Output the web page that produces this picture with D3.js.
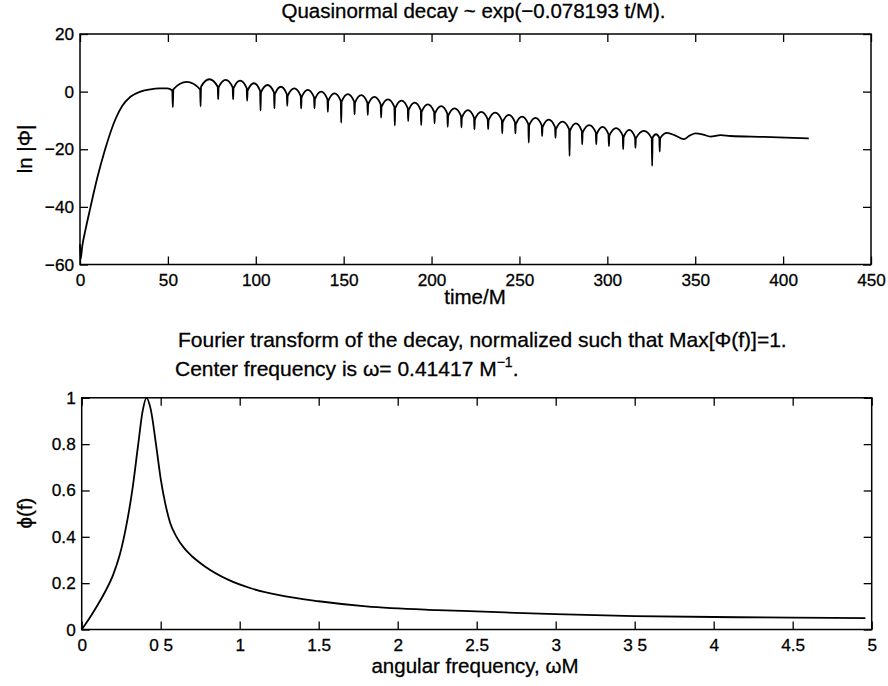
<!DOCTYPE html>
<html>
<head>
<meta charset="utf-8">
<title>Quasinormal decay</title>
<script src="https://cdn.jsdelivr.net/npm/d3@7"></script>
<style>
  body { margin: 0; background: #fff; }
  text { font-family: "Liberation Sans", Arial, Helvetica, sans-serif; fill: #000; stroke: #000; stroke-width: 0.3px; }
</style>
</head>
<body>
<svg id="chart" width="888" height="686"></svg>
<script>
// ---- data ----
// top panel: ln|Phi| against time/M  [t, ln|Phi|]
const decaySamples = [
  [0,-53],[0.4,-58],[1.25,-53.8],[3.1,-48],[6,-40],[9.8,-30],[14.3,-20],[20.2,-9.5],
  [24,-5],[28.7,-1.8],[34.4,0],[40.1,0.8],[45,1.1],[49.6,1.1],
  [52.5,0.4],[52.8,-5.4],[53.1,0.8],[60.7,3.4],
  [68.35,0.8],[68.6,-5.1],[68.85,1.7],[73.6,4.3],
  [78.35,1.7],[78.6,-2.7],[78.85,1.5],[82.9,4.1],
  [86.85,1.5],[87.1,-2.7],[87.35,1.2],[91.1,3.8],
  [94.85,1.2],[95.1,-3.1],[95.35,0.3],[98.9,2.9],
  [102.45,0.3],[102.7,-6.6],[102.95,-0.3],[106.7,2.3],
  [110.35,-0.3],[110.6,-5.8],[110.85,-0.9],[114.3,1.7],
  [117.65,-0.9],[117.9,-4.9],[118.15,-1.5],[121.9,1.1],
  [125.55,-1.5],[125.8,-5.8],[126.05,-2.0],[129.6,0.6],
  [133.15,-2.0],[133.4,-5.8],[133.65,-2.6],[137.2,0.0],
  [140.75,-2.6],[141.0,-7.0],[141.25,-3.2],[144.8,-0.6],
  [148.35,-3.2],[148.6,-10.8],[148.85,-3.5],[152.4,-0.9],
  [155.95,-3.5],[156.2,-7.9],[156.45,-3.8],[160.0,-1.2],
  [163.45,-3.8],[163.7,-8.1],[163.95,-4.4],[167.5,-1.8],
  [171.05,-4.4],[171.3,-9.0],[171.55,-5.3],[175.2,-2.7],
  [178.85,-5.3],[179.1,-11.8],[179.35,-5.7],[182.9,-3.1],
  [186.45,-5.7],[186.7,-10.2],[186.95,-6.4],[190.4,-3.8],
  [193.85,-6.4],[194.1,-11.6],[194.35,-7.0],[197.9,-4.4],
  [201.45,-7.0],[201.7,-11.0],[201.95,-7.6],[205.5,-5.0],
  [208.95,-7.6],[209.2,-12.2],[209.45,-8.4],[213.1,-5.8],
  [216.75,-8.4],[217.0,-12.4],[217.25,-9.0],[220.7,-6.4],
  [224.15,-9.0],[224.4,-13.1],[224.65,-9.6],[228.3,-7.0],
  [231.95,-9.6],[232.2,-13.0],[232.45,-9.9],[236.2,-7.3],
  [239.95,-9.9],[240.2,-14.5],[240.45,-10.7],[244.0,-8.1],
  [247.45,-10.7],[247.7,-14.5],[247.95,-11.3],[251.5,-8.7],
  [255.05,-11.3],[255.3,-17.7],[255.55,-11.7],[259.1,-9.1],
  [262.65,-11.7],[262.9,-15.4],[263.15,-12.3],[266.7,-9.7],
  [270.25,-12.3],[270.5,-16.0],[270.75,-13.0],[274.5,-10.4],
  [278.25,-13.0],[278.5,-22.3],[278.75,-13.6],[282.1,-11.0],
  [285.45,-13.6],[285.7,-18.3],[285.95,-14.2],[289.7,-11.6],
  [293.45,-14.2],[293.7,-18.3],[293.95,-14.8],[297.3,-12.2],
  [300.65,-14.8],[300.9,-18.9],[301.15,-15.3],[305.0,-12.7],
  [308.75,-15.3],[309.0,-20.0],[309.25,-15.9],[312.5,-13.3],
  [315.75,-15.9],[316.0,-19.5],[316.25,-16.2],[320.8,-13.6],
  [325.25,-16.2],[325.5,-25.8],[325.75,-16.0],[327.7,-14.8],
  [329.55,-16.0],[329.8,-20.8],[330.05,-16.2],[334.0,-14.3],
  [338.5,-15.2],[343.5,-16.5],[347.0,-15.2],[350.2,-14.5],[354.5,-14.9],
  [358.7,-15.6],[364.4,-15.1],[370.0,-15.4],[389.0,-15.7],[414.6,-16.2]
];

// bottom panel: normalized spectrum  [omega*M, phi(f)]
const spectrumSamples = [
  [0,0],[0.05,0.05],[0.1,0.105],[0.15,0.165],[0.2,0.238],[0.24,0.32],[0.28,0.44],
  [0.32,0.60],[0.356,0.79],[0.385,0.94],[0.41,1.0],[0.437,0.95],[0.472,0.79],
  [0.50,0.65],[0.53,0.54],[0.56,0.46],[0.60,0.40],[0.65,0.35],[0.70,0.315],
  [0.78,0.272],[0.926,0.215],[1.07,0.178],[1.25,0.148],[1.5,0.122],[1.8,0.10],
  [2.25,0.084],[2.5,0.078],[3,0.066],[3.5,0.058],[4,0.054],[4.5,0.051],[4.96,0.049]
];

const topXTicks = [0, 50, 100, 150, 200, 250, 300, 350, 400, 450];
const topXLabels = ['0', '50', '100', '150', '200', '250', '300', '350', '400', '450'];
const topYTicks = [-60, -40, -20, 0, 20];
const topYLabels = ['\u221260', '\u221240', '\u221220', '0', '20'];

const botXTicks = [0, 0.5, 1, 1.5, 2, 2.5, 3, 3.5, 4, 4.5, 5];
const botXLabels = ['0', '0 5', '1', '1.5', '2', '2.5', '3', '3 5', '4', '4.5', '5'];
const botYTicks = [0, 0.2, 0.4, 0.6, 0.8, 1];
const botYLabels = ['0', '0.2', '0.4', '0.6', '0.8', '1'];

// ---- drawing ----
const svg = d3.select('#chart');
const tick = 8;

const x1 = d3.scaleLinear().domain([0, 450]).range([80, 871]);
const y1 = d3.scaleLinear().domain([-60, 20]).range([264.5, 34]);
const x2 = d3.scaleLinear().domain([0, 5]).range([81.7, 871.7]);
const y2 = d3.scaleLinear().domain([0, 1]).range([629.5, 397.8]);

function panel(x, y, xt, xl, yt, yl) {
  const [l, r] = x.range();
  const [b, t] = y.range();
  const g = svg.append('g');

  // bottom axis with labels, ticks pointing in
  g.append('g')
    .attr('transform', 'translate(0,' + b + ')')
    .call(d3.axisBottom(x).tickValues(xt).tickSizeInner(-tick).tickSizeOuter(0)
      .tickPadding(9).tickFormat((d, i) => xl[i]));
  // top mirror
  g.append('g')
    .attr('transform', 'translate(0,' + t + ')')
    .call(d3.axisTop(x).tickValues(xt).tickSizeInner(-tick).tickSizeOuter(0).tickFormat(''));
  // left axis with labels
  g.append('g')
    .attr('transform', 'translate(' + l + ',0)')
    .call(d3.axisLeft(y).tickValues(yt).tickSizeInner(-tick).tickSizeOuter(0)
      .tickPadding(6).tickFormat((d, i) => yl[i]));
  // right mirror
  g.append('g')
    .attr('transform', 'translate(' + r + ',0)')
    .call(d3.axisRight(y).tickValues(yt).tickSizeInner(-tick).tickSizeOuter(0).tickFormat(''));

  g.selectAll('.domain').remove();
  g.selectAll('.tick line').attr('stroke', '#000').attr('stroke-width', 1.3);
  g.selectAll('.tick text')
    .style('font-family', '"Liberation Sans", Arial, sans-serif')
    .attr('font-size', 17.2).attr('fill', '#000');

  g.append('rect')
    .attr('x', l).attr('y', t)
    .attr('width', r - l).attr('height', b - t)
    .attr('fill', 'none').attr('stroke', '#000').attr('stroke-width', 1.5);
  return g;
}

panel(x1, y1, topXTicks, topXLabels, topYTicks, topYLabels);
panel(x2, y2, botXTicks, botXLabels, botYTicks, botYLabels);

const line1 = d3.line()
  .x(d => x1(d[0]))
  .y(d => y1(d[1]))
  .curve(d3.curveMonotoneX);

svg.append('path')
  .datum(decaySamples)
  .attr('d', line1)
  .attr('fill', 'none')
  .attr('stroke', '#000')
  .attr('stroke-width', 1.8)
  .attr('stroke-linejoin', 'round');

const line2 = d3.line()
  .x(d => x2(d[0]))
  .y(d => y2(d[1]))
  .curve(d3.curveMonotoneX);

svg.append('path')
  .datum(spectrumSamples)
  .attr('d', line2)
  .attr('fill', 'none')
  .attr('stroke', '#000')
  .attr('stroke-width', 1.8);

// titles and axis labels
svg.append('text')
  .attr('x', 473.5).attr('y', 18)
  .attr('text-anchor', 'middle').attr('font-size', 20.5)
  .text('Quasinormal decay ~ exp(\u22120.078193 t/M).');

svg.append('text')
  .attr('x', 475).attr('y', 304)
  .attr('text-anchor', 'middle').attr('font-size', 20.5)
  .text('time/M');

svg.append('text')
  .attr('transform', 'translate(32,149) rotate(-90)')
  .attr('text-anchor', 'middle').attr('font-size', 20.5)
  .text('ln |\u03A6|');

svg.append('text')
  .attr('x', 178).attr('y', 347)
  .attr('font-size', 21)
  .text('Fourier transform of the decay, normalized such that Max[\u03A6(f)]=1.');

const sub = svg.append('text')
  .attr('x', 175).attr('y', 376)
  .attr('font-size', 21);
sub.append('tspan').text('Center frequency is \u03C9= 0.41417 M');
sub.append('tspan').attr('font-size', 14).attr('dy', -9).text('\u22121');
sub.append('tspan').attr('dy', 9).text('.');

svg.append('text')
  .attr('transform', 'translate(32,513) rotate(-90)')
  .attr('text-anchor', 'middle').attr('font-size', 20.5)
  .text('\u03D5(f)');

svg.append('text')
  .attr('x', 475).attr('y', 673)
  .attr('text-anchor', 'middle').attr('font-size', 20.5)
  .text('angular frequency, \u03C9M');
</script>
</body>
</html>
